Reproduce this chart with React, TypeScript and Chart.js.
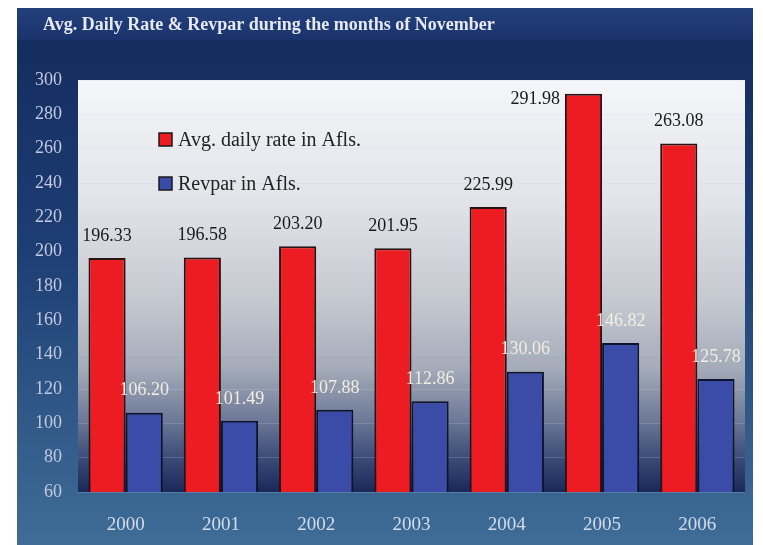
import React, { useEffect, useRef } from "react";
import { Chart, registerables } from "chart.js";

Chart.register(...registerables);

const years = ["2000", "2001", "2002", "2003", "2004", "2005", "2006"];
const avgDailyRate = [196.33, 196.58, 203.2, 201.95, 225.99, 291.98, 263.08];
const revpar = [106.2, 101.49, 107.88, 112.86, 130.06, 146.82, 125.78];
const seriesLabels = ["Avg. daily rate in Afls.", "Revpar in Afls."];
const chartTitle = "Avg. Daily Rate & Revpar during the months of November";
const yMin = 60;
const yMax = 300;
const yStep = 20;

const SERIF = "'Liberation Serif', 'Times New Roman', serif";

const backgroundPlugin = {
  id: "bgPanel",
  beforeDraw(chart: any) {
    const { ctx, width, height, chartArea: ca } = chart;
    ctx.save();
    ctx.fillStyle = "#ffffff";
    ctx.fillRect(0, 0, width, height);
    // outer panel
    const g = ctx.createLinearGradient(0, 8, 0, height);
    g.addColorStop(0, "#132a5d");
    g.addColorStop(0.45, "#1d3e74");
    g.addColorStop(1, "#3f6d97");
    ctx.fillStyle = g;
    ctx.fillRect(17, 8, 736, height - 8);
    // title band
    const tg = ctx.createLinearGradient(0, 8, 0, 40);
    tg.addColorStop(0, "#23407c");
    tg.addColorStop(1, "#1a336c");
    ctx.fillStyle = tg;
    ctx.fillRect(17, 8, 736, 32);
    // plot area
    const pg = ctx.createLinearGradient(0, ca.top, 0, ca.bottom);
    pg.addColorStop(0, "#f5f6f9");
    pg.addColorStop(0.3, "#e1e3e8");
    pg.addColorStop(0.55, "#c2c6ce");
    pg.addColorStop(0.7, "#a4abb9");
    pg.addColorStop(0.82, "#6f7b98");
    pg.addColorStop(0.92, "#3a4a76");
    pg.addColorStop(1, "#1a2858");
    ctx.fillStyle = pg;
    ctx.fillRect(ca.left, ca.top, ca.right - ca.left, ca.bottom - ca.top);
    // title
    ctx.fillStyle = "#e6e8f2";
    ctx.font = `bold 18px ${SERIF}`;
    ctx.textBaseline = "middle";
    ctx.textAlign = "left";
    ctx.fillText(chartTitle, 43, 25);
    ctx.restore();
  },
  afterDatasetsDraw(chart: any) {
    const { ctx, chartArea: ca } = chart;
    ctx.save();
    ctx.textBaseline = "middle";
    ctx.font = `18px ${SERIF}`;
    chart.data.datasets.forEach((ds: any, di: number) => {
      const meta = chart.getDatasetMeta(di);
      ctx.fillStyle = di === 0 ? "#1a1a1a" : "#f2eee2";
      meta.data.forEach((el: any, i: number) => {
        const v = ds.data[i] as number;
        const txt = v.toFixed(2);
        const y = el.y - 22;
        if (y - 9 < ca.top) {
          // not enough room above: place beside the bar, to its left
          ctx.textAlign = "right";
          ctx.fillText(txt, el.x - el.width / 2 - 5, el.y + 5);
        } else {
          ctx.textAlign = "center";
          ctx.fillText(txt, el.x, y);
        }
      });
    });
    // legend inside plot area
    ctx.textAlign = "left";
    ctx.font = `20px ${SERIF}`;
    const legendY = [140, 184];
    chart.data.datasets.forEach((ds: any, di: number) => {
      const y = legendY[di];
      ctx.fillStyle = ds.backgroundColor;
      ctx.fillRect(159, y - 7, 13, 13);
      ctx.strokeStyle = "#1a1a1a";
      ctx.lineWidth = 1.5;
      ctx.strokeRect(159, y - 7, 13, 13);
      ctx.fillStyle = "#222222";
      ctx.fillText(ds.label, 178, y + 1);
    });
    ctx.restore();
  },
};

export default function App() {
  const ref = useRef<HTMLCanvasElement | null>(null);
  useEffect(() => {
    document.body.style.margin = "0";
    if (!ref.current) return;
    const chart = new Chart(ref.current, {
      type: "bar",
      data: {
        labels: years,
        datasets: [
          {
            label: seriesLabels[0],
            data: avgDailyRate,
            backgroundColor: "#ec1c22",
            borderColor: "#2a1212",
            borderWidth: 2,
            categoryPercentage: 0.78,
            barPercentage: 1,
          },
          {
            label: seriesLabels[1],
            data: revpar,
            backgroundColor: "#3a4ca8",
            borderColor: "#0e1430",
            borderWidth: 2,
            categoryPercentage: 0.78,
            barPercentage: 1,
          },
        ],
      },
      options: {
        animation: false,
        responsive: false,
        maintainAspectRatio: false,
        layout: { padding: { top: 80, right: 18, left: 0, bottom: 0 } },
        plugins: {
          legend: { display: false },
          title: { display: false },
          tooltip: { enabled: false },
        },
        scales: {
          x: {
            grid: { display: false },
            border: { display: false },
            ticks: {
              color: "#d4dcea",
              font: { family: SERIF, size: 19 },
              padding: 14,
            },
            afterFit: (s: any) => {
              s.height = 53;
            },
          },
          y: {
            min: yMin,
            max: yMax,
            grid: { color: "rgba(200,210,235,0.22)", drawTicks: false },
            border: { display: false },
            ticks: {
              stepSize: yStep,
              color: "#c4c8e0",
              font: { family: SERIF, size: 18 },
              padding: 16,
            },
            afterFit: (s: any) => {
              s.width = 78;
            },
          },
        },
      },
      plugins: [backgroundPlugin],
    });
    return () => chart.destroy();
  }, []);
  return (
    <div style={{ width: 763, height: 545 }}>
      <canvas ref={ref} width={763} height={545} style={{ display: "block" }} />
    </div>
  );
}
